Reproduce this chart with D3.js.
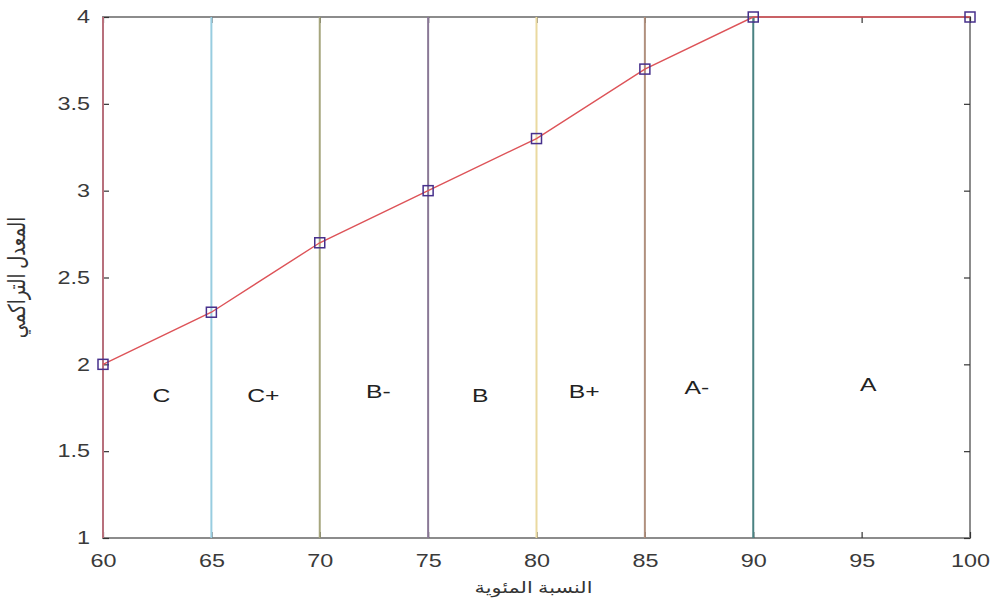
<!DOCTYPE html>
<html>
<head>
<meta charset="utf-8">
<script src="https://cdn.jsdelivr.net/npm/d3@7"></script>
<style>
  body { margin: 0; background: #fff; }
  text { font-family: "Liberation Sans", Arial, sans-serif; }
</style>
</head>
<body>
<div id="chart"></div>
<script>
// data
const percent = [60, 65, 70, 75, 80, 85, 90, 100];
const gpa = [2, 2.3, 2.7, 3, 3.3, 3.7, 4, 4];

// grade boundaries and their line colours
const boundaries = [60, 65, 70, 75, 80, 85, 90];
const boundaryColors = ["#b8707c", "#98cde0", "#a6a67e", "#8a7896", "#ead9a0", "#b0907e", "#4a8282"];

// grade letters and where they sit (data coords)
const grades = ["C", "C+", "B-", "B", "B+", "A-", "A"];
const gradeX = [62.7, 67.4, 72.7, 77.4, 82.2, 87.4, 95.3];
const gradeY = [1.82, 1.82, 1.845, 1.82, 1.845, 1.87, 1.885];

const xTicks = [60, 65, 70, 75, 80, 85, 90, 95, 100];
const yTicks = [1, 1.5, 2, 2.5, 3, 3.5, 4];

const W = 994, H = 601;
const margin = { top: 17, right: 24, bottom: 63, left: 103 };
const width = W - margin.left - margin.right,
    height = H - margin.top - margin.bottom;
const stretch = 1.3; // the source picture is widened, text looks stretched

const svg = d3.select("#chart").append("svg")
    .attr("width", W)
    .attr("height", H);

const g = svg.append("g")
    .attr("transform", `translate(${margin.left},${margin.top})`);

const x = d3.scaleLinear().domain([60, 100]).range([0, width]);
const y = d3.scaleLinear().domain([1, 4]).range([height, 0]);

const axisColor = "#8c8c8c";
const tickColor = "#333";

// box
g.append("rect")
    .attr("x", 0).attr("y", 0)
    .attr("width", width).attr("height", height)
    .attr("fill", "none")
    .attr("stroke", axisColor)
    .attr("stroke-width", 2);

// inward ticks on all four sides
function styleAxis(sel) {
    sel.select(".domain").remove();
    sel.selectAll(".tick line").attr("stroke", tickColor).attr("stroke-width", 1.2);
    sel.selectAll(".tick text")
        .attr("fill", "#3a3a3a")
        .attr("transform", `scale(${stretch},1)`)
        .style("font-size", "18px");
}

const fmt = d => String(d);

g.append("g")
    .attr("transform", `translate(0,${height})`)
    .call(d3.axisBottom(x).tickValues(xTicks).tickFormat(fmt).tickSizeInner(-6).tickSizeOuter(0).tickPadding(16))
    .call(styleAxis);

g.append("g")
    .call(d3.axisTop(x).tickValues(xTicks).tickSizeInner(-6).tickSizeOuter(0).tickFormat(""))
    .call(styleAxis);

g.append("g")
    .call(d3.axisLeft(y).tickValues(yTicks).tickFormat(fmt).tickSizeInner(-6).tickSizeOuter(0).tickPadding(10))
    .call(styleAxis);

g.append("g")
    .attr("transform", `translate(${width},0)`)
    .call(d3.axisRight(y).tickValues(yTicks).tickSizeInner(-6).tickSizeOuter(0).tickFormat(""))
    .call(styleAxis);

// grade boundary lines
g.selectAll(".bound")
    .data(boundaries)
    .enter()
    .append("line")
    .attr("x1", d => x(d))
    .attr("x2", d => x(d))
    .attr("y1", y(1))
    .attr("y2", y(4))
    .attr("stroke", (d, i) => boundaryColors[i])
    .attr("stroke-width", 2);

// gpa line
const pts = percent.map((p, i) => ({ p: p, v: gpa[i] }));
g.append("path")
    .datum(pts)
    .attr("fill", "none")
    .attr("stroke", "#dd5358")
    .attr("stroke-width", 1.4)
    .attr("d", d3.line().x(d => x(d.p)).y(d => y(d.v)));

g.selectAll(".marker")
    .data(pts)
    .enter()
    .append("rect")
    .attr("x", d => x(d.p) - 5)
    .attr("y", d => y(d.v) - 5)
    .attr("width", 10)
    .attr("height", 10)
    .attr("fill", "none")
    .attr("stroke", "#47308c")
    .attr("stroke-width", 1.5);

// grade letters
g.selectAll(".grade")
    .data(grades)
    .enter()
    .append("text")
    .attr("transform", (d, i) => `translate(${x(gradeX[i])},${y(gradeY[i])}) scale(${stretch},1)`)
    .attr("text-anchor", "middle")
    .attr("dy", "0.35em")
    .attr("fill", "#222")
    .style("font-size", "19px")
    .text(d => d);

// axis labels
svg.append("text")
    .attr("transform", `translate(${margin.left + width / 2 - 3},${H - 8}) scale(${stretch},1)`)
    .attr("text-anchor", "middle")
    .attr("fill", "#333")
    .style("font-family", "'Noto Sans', 'DejaVu Sans', sans-serif")
    .style("font-size", "16px")
    .text("النسبة المئوية");

svg.append("text")
    .attr("transform", `translate(25,${margin.top + height / 2}) rotate(-90) scale(1,${stretch})`)
    .attr("text-anchor", "middle")
    .attr("fill", "#333")
    .style("font-family", "'Noto Sans', 'DejaVu Sans', sans-serif")
    .style("font-size", "18px")
    .text("المعدل التراكمي");
</script>
</body>
</html>
